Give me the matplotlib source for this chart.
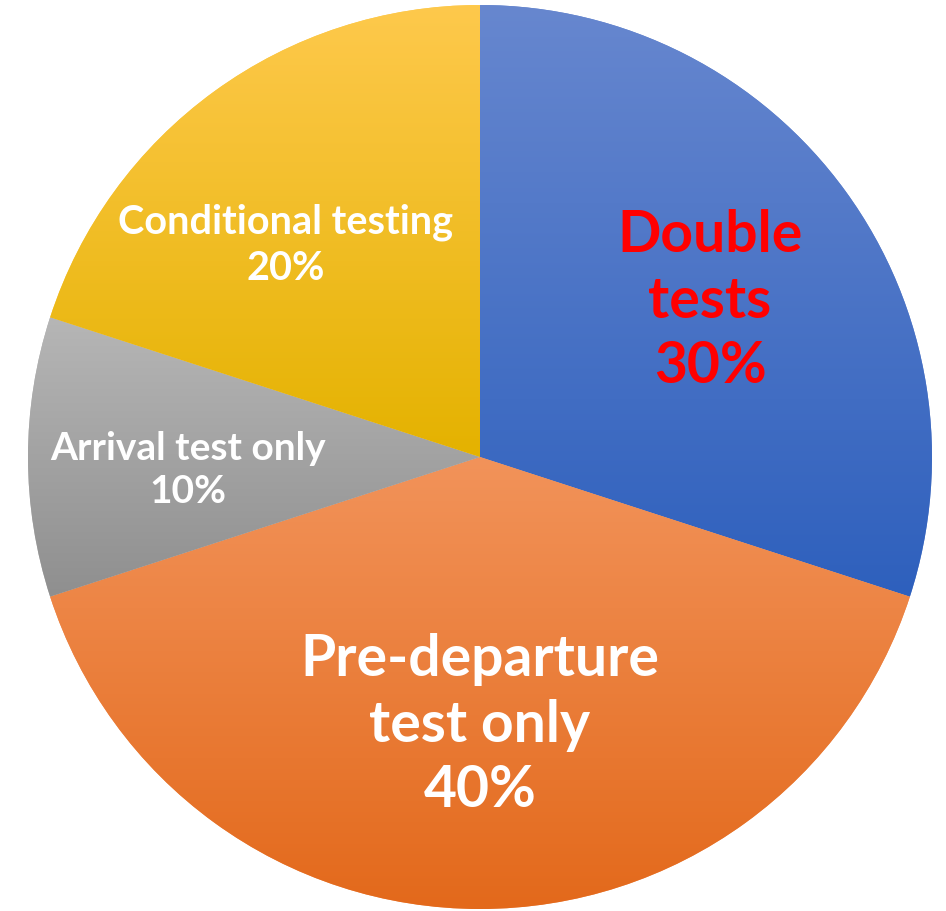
import numpy as np
import matplotlib
matplotlib.use("Agg")
from matplotlib import pyplot as plt
from matplotlib.colors import LinearSegmentedColormap

labels = ["Double\ntests", "Pre-departure\ntest only", "Arrival test only", "Conditional testing"]
shares = [30, 40, 10, 20]
top_colors = ["#6787cf", "#f2935a", "#b6b6b6", "#fec94c"]
bottom_colors = ["#2e60bd", "#e3691b", "#8f8f8f", "#e4b200"]
text_colors = ["#ff0000", "white", "white", "white"]
font_sizes = [41, 41, 28, 28.5]
text_pos = [(0.509, 0.345), (0.0, -0.593), (-0.646, -0.029), (-0.431, 0.469)]

plt.rcParams['font.family'] = ['Lato', 'DejaVu Sans']

fig = plt.figure(figsize=(9.46, 9.11), dpi=100)
R = 452
ax = fig.add_axes([(480 - R) / 946, (454 - R) / 911, 2 * R / 946, 2 * R / 911])

wedges, _ = ax.pie(shares, startangle=90, counterclock=False,
                   colors=top_colors, radius=1, center=(0, 0), frame=True,
                   wedgeprops=dict(linewidth=0))

# vertical gradient inside each slice
for w, c1, c2 in zip(wedges, top_colors, bottom_colors):
    t = np.radians(np.linspace(w.theta1, w.theta2, 200))
    xs = np.concatenate([[0], np.cos(t)])
    ys = np.concatenate([[0], np.sin(t)])
    cmap = LinearSegmentedColormap.from_list("g", [c2, c1])
    grad = np.linspace(0, 1, 256).reshape(-1, 1)
    im = ax.imshow(grad, cmap=cmap, origin="lower", aspect="auto",
                   extent=[xs.min(), xs.max(), ys.min(), ys.max()], zorder=2)
    im.set_clip_path(w)

for lab, s, (x, y), col, fs in zip(labels, shares, text_pos, text_colors, font_sizes):
    ax.text(x, y, f"{lab}\n{s}%", ha="center", va="center", color=col,
            fontsize=fs, fontweight="bold", linespacing=1.3, zorder=5)

ax.set_xlim(-1, 1)
ax.set_ylim(-1, 1)
ax.axis("off")
fig.savefig("out.png", dpi=100)
